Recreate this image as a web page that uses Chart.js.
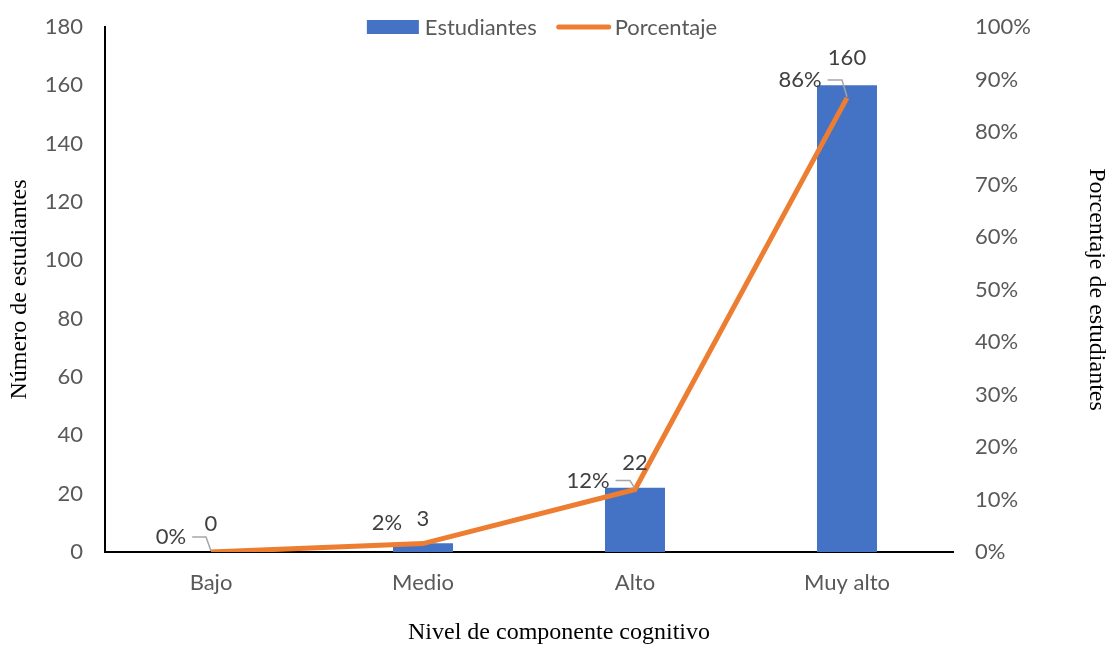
<!DOCTYPE html>
<html>
<head>
<meta charset="utf-8">
<script src="https://cdn.jsdelivr.net/npm/chart.js@4.4.1/dist/chart.umd.min.js"></script>
<style>
  html, body { margin: 0; padding: 0; background: #ffffff; }
  #wrap { width: 1108px; height: 646px; }
</style>
</head>
<body>
<div id="wrap"><canvas id="chart" width="1108" height="646"></canvas></div>
<script>
const categories = ['Bajo', 'Medio', 'Alto', 'Muy alto'];
const students = [0, 3, 22, 160];
const percentages = [0, 0.016, 0.119, 0.865];
const percentLabels = ['0%', '2%', '12%', '86%'];

const SANS = "Lato, 'Open Sans', sans-serif";
const SERIF = "'Liberation Serif', 'DejaVu Serif', serif";
const BLUE = '#4472C4';
const ORANGE = '#ED7D31';
const GREY_TEXT = '#595959';

// data labels with leader lines, placed roughly like the Excel original
const labelPlugin = {
  id: 'dataLabels',
  afterDatasetsDraw(chart) {
    const ctx = chart.ctx;
    const bars = chart.getDatasetMeta(0).data;
    const pts = chart.getDatasetMeta(1).data;
    const pctOffsets = [[-40, -15], [-36, -21], [-47, -9], [-47, -18]];
    const valOffsets = [-28, -24, -25, -27];
    ctx.save();
    ctx.font = '22px ' + SANS;
    ctx.fillStyle = '#404040';
    ctx.textBaseline = 'middle';
    bars.forEach((b, i) => {
      ctx.textAlign = 'center';
      ctx.fillText(String(students[i]), b.x, b.y + valOffsets[i]);
    });
    pts.forEach((p, i) => {
      const tx = p.x + pctOffsets[i][0];
      const ty = p.y + pctOffsets[i][1];
      ctx.textAlign = 'center';
      ctx.fillText(percentLabels[i], tx, ty);
      if (i !== 1) {
        const w = ctx.measureText(percentLabels[i]).width;
        ctx.strokeStyle = '#A6A6A6';
        ctx.lineWidth = 1.5;
        ctx.beginPath();
        ctx.moveTo(tx + w / 2 + 6, ty);
        ctx.lineTo(p.x - 5, ty);
        ctx.lineTo(p.x, p.y - 1);
        ctx.stroke();
      }
    });
    ctx.restore();
  }
};

// legend over the top of the plot area + x title centred on the page
const legendPlugin = {
  id: 'topLegend',
  afterDraw(chart) {
    const ctx = chart.ctx;
    const area = chart.chartArea;
    ctx.save();
    ctx.font = '22px ' + SANS;
    ctx.textBaseline = 'middle';
    ctx.textAlign = 'left';
    const t1 = 'Estudiantes', t2 = 'Porcentaje';
    const w1 = ctx.measureText(t1).width, w2 = ctx.measureText(t2).width;
    const total = 52 + 6 + w1 + 20 + 54 + 4 + w2;
    let x = (area.left + area.right) / 2 + 13 - total / 2;
    const y = 27;
    ctx.fillStyle = BLUE;
    ctx.fillRect(x, y - 7, 52, 14);
    x += 58;
    ctx.fillStyle = GREY_TEXT;
    ctx.fillText(t1, x, y + 1);
    x += w1 + 20;
    ctx.strokeStyle = ORANGE;
    ctx.lineWidth = 5;
    ctx.lineCap = 'round';
    ctx.beginPath();
    ctx.moveTo(x + 2, y);
    ctx.lineTo(x + 52, y);
    ctx.stroke();
    x += 58;
    ctx.fillText(t2, x, y + 1);

    ctx.font = '24px ' + SERIF;
    ctx.fillStyle = '#000000';
    ctx.textAlign = 'center';
    ctx.fillText('Nivel de componente cognitivo', chart.width / 2 + 5, 633);
    ctx.restore();
  }
};

const fitY = w => s => { s.width = w; s.paddingTop = 0; s.paddingBottom = 0; };

new Chart(document.getElementById('chart'), {
  type: 'bar',
  data: {
    labels: categories,
    datasets: [
      {
        label: 'Estudiantes',
        data: students,
        backgroundColor: BLUE,
        barPercentage: 0.283,
        categoryPercentage: 1,
        yAxisID: 'y',
        order: 1
      },
      {
        type: 'line',
        label: 'Porcentaje',
        data: percentages,
        borderColor: ORANGE,
        borderWidth: 5,
        pointRadius: 0,
        tension: 0,
        yAxisID: 'y1',
        order: 0
      }
    ]
  },
  plugins: [labelPlugin, legendPlugin],
  options: {
    responsive: false,
    animation: false,
    layout: { padding: { left: 0, right: 0, top: 27, bottom: 0 } },
    plugins: {
      legend: { display: false },
      tooltip: { enabled: false }
    },
    scales: {
      x: {
        grid: { display: false, drawTicks: false },
        border: { color: '#000000', width: 2 },
        ticks: { color: GREY_TEXT, font: { family: SANS, size: 22 }, padding: 18 },
        afterFit: s => { s.height = 94; },
        title: { display: false }
      },
      y: {
        position: 'left',
        min: 0,
        max: 180,
        ticks: { stepSize: 20, color: GREY_TEXT, font: { family: SANS, size: 22 }, padding: 22 },
        grid: { display: false, drawTicks: false },
        border: { color: '#000000', width: 2 },
        afterFit: fitY(105),
        title: {
          display: true,
          text: 'Número de estudiantes',
          color: '#000000',
          font: { family: SERIF, size: 24, lineHeight: 1 },
          padding: { top: 8, bottom: 4 }
        }
      },
      y1: {
        position: 'right',
        min: 0,
        max: 1,
        ticks: {
          stepSize: 0.1,
          color: GREY_TEXT,
          font: { family: SANS, size: 22 },
          padding: 22,
          callback: v => Math.round(v * 100) + '%'
        },
        grid: { display: false, drawOnChartArea: false, drawTicks: false },
        border: { display: false },
        afterFit: fitY(155),
        title: {
          display: true,
          text: 'Porcentaje de estudiantes',
          color: '#000000',
          font: { family: SERIF, size: 24, lineHeight: 1 },
          padding: { top: 0, bottom: 20 }
        }
      }
    }
  }
});
</script>
</body>
</html>
